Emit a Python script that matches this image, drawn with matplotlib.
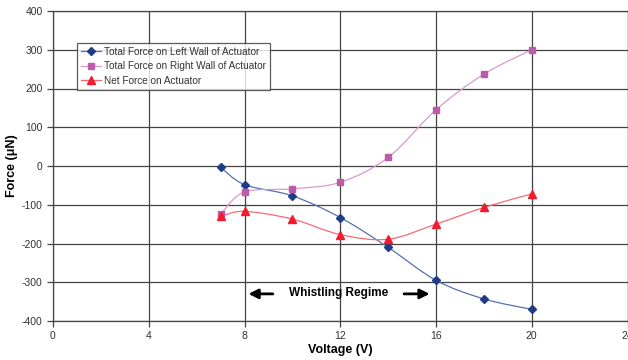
import numpy as np
import matplotlib
matplotlib.use("Agg")
import matplotlib.pyplot as plt
from matplotlib.path import Path
from matplotlib.patches import PathPatch

plt.rcParams['font.family'] = ['Liberation Sans', 'DejaVu Sans']
plt.rcParams['axes.unicode_minus'] = False

# data
voltage = [7, 8, 10, 12, 14, 16, 18, 20]
left_wall = [-3, -48, -77, -133, -210, -295, -343, -370]
right_wall = [-125, -67, -59, -42, 22, 145, 237, 300]
net_force = [-130, -117, -137, -177, -189, -150, -107, -72]

labels = ['Total Force on Left Wall of Actuator',
          'Total Force on Right Wall of Actuator',
          'Net Force on Actuator']
x_ticks = [0, 4, 8, 12, 16, 20, 24]
y_ticks = [-400, -300, -200, -100, 0, 100, 200, 300, 400]


def smooth_path(x, y):
    # Excel-like smoothed line: Catmull-Rom segments as cubic Beziers
    p = np.column_stack([x, y]).astype(float)
    n = len(p)
    verts = [p[0]]
    codes = [Path.MOVETO]
    for i in range(n - 1):
        p0 = p[i - 1] if i > 0 else p[i]
        p3 = p[i + 2] if i + 2 < n else p[i + 1]
        c1 = p[i] + (p[i + 1] - p0) / 6
        c2 = p[i + 1] - (p3 - p[i]) / 6
        verts += [c1, c2, p[i + 1]]
        codes += [Path.CURVE4] * 3
    return Path(verts, codes)


fig = plt.figure(figsize=(6.28, 3.6), dpi=100)
ax = fig.add_axes([53 / 628, 1 - 321 / 360, 574.5 / 628, 310 / 360])

series = [
    (left_wall, '#1F3C88', '#5670B0', 'D', 4.5),
    (right_wall, '#BE5AAA', '#D79ACB', 's', 5),
    (net_force, '#F21B2D', '#F86A72', '^', 6),
]
for (vals, mcol, lcol, mk, ms), lab in zip(series, labels):
    ax.add_patch(PathPatch(smooth_path(voltage, vals), facecolor='none',
                           edgecolor=lcol, lw=0.9, zorder=3))
    ax.plot(voltage, vals, linestyle='none', marker=mk, ms=ms, color=mcol,
            zorder=4)
    ax.plot([], [], color=lcol, lw=0.9, marker=mk, ms=ms,
            markerfacecolor=mcol, markeredgecolor=mcol, label=lab)

ax.set_xlim(0, 24)
ax.set_ylim(-400, 400)
ax.set_xticks(x_ticks)
ax.set_yticks(y_ticks)
ax.grid(True, color='#444444', lw=0.9)
ax.set_axisbelow(True)
for s in ax.spines.values():
    s.set_color('#444444')
    s.set_linewidth(0.9)
ax.tick_params(colors='#444444', labelcolor='#333333', labelsize=7.5,
               length=4, width=0.9)

ax.set_xlabel('Voltage (V)', fontsize=9, fontweight='bold', labelpad=2)
ax.set_ylabel('Force (\u03bcN)', fontsize=9, fontweight='bold', labelpad=3)

leg = ax.legend(loc='upper left', bbox_to_anchor=(0.042, 0.897), fontsize=7.2,
                frameon=True, fancybox=False, borderpad=0.4,
                labelspacing=0.45, handlelength=2.0, handletextpad=0.3,
                borderaxespad=0)
leg.get_frame().set_edgecolor('#333333')
leg.get_frame().set_linewidth(0.9)
for t in leg.get_texts():
    t.set_color('#333333')

ax.text(11.95, -328, 'Whistling Regime', fontsize=8.5, fontweight='bold',
        ha='center', va='center')
ax.annotate('', xy=(8.05, -330), xytext=(9.3, -330),
            arrowprops=dict(arrowstyle='-|>', color='black', lw=2,
                            mutation_scale=14))
ax.annotate('', xy=(15.85, -330), xytext=(14.55, -330),
            arrowprops=dict(arrowstyle='-|>', color='black', lw=2,
                            mutation_scale=14))

fig.savefig('out.png', dpi=100)
